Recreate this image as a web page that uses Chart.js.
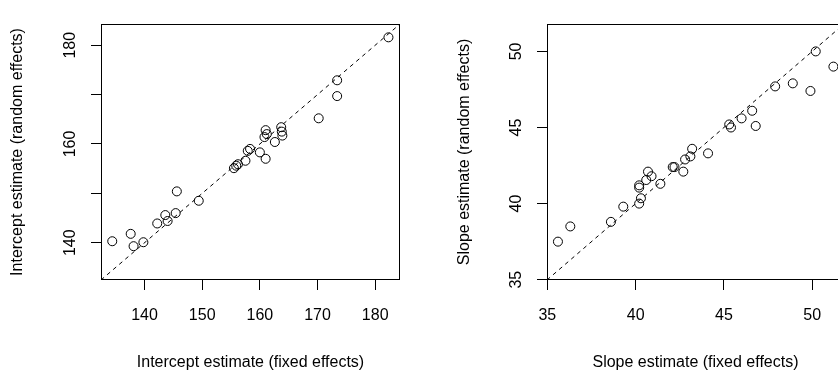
<!DOCTYPE html>
<html><head><meta charset="utf-8">
<script src="https://cdn.jsdelivr.net/npm/chart.js@4/dist/chart.umd.min.js"></script>
<style>
html,body{margin:0;padding:0;background:#fff;overflow:hidden;width:838px;height:380px;}
#c1{position:absolute;left:0;top:0;}
#c2{position:absolute;left:419px;top:0;}
</style></head><body>
<canvas id="c1" width="419" height="380"></canvas>
<canvas id="c2" width="444" height="380"></canvas>
<script>
// ---- data ----
const interceptFixed  = [134.4,137.6,138.1,139.8,142.2,143.6,144.0,145.4,145.6,149.4,155.5,155.9,156.2,157.5,157.9,158.3,160.0,161.0,161.0,161.2,160.8,162.6,163.7,163.8,163.9,170.2,173.4,173.4,182.3];
const interceptRandom = [140.3,141.8,139.3,140.1,143.9,145.6,144.4,146.0,150.4,148.5,155.1,155.6,155.9,156.6,158.6,159.0,158.3,157.0,162.8,162.0,161.4,160.4,163.4,162.5,161.7,165.2,172.9,169.7,181.6];
const slopeFixed  = [35.6,36.3,38.6,39.3,40.2,40.3,40.2,40.2,40.6,40.7,40.9,41.4,42.1,42.2,42.7,42.8,43.1,43.2,44.1,45.3,45.4,46.0,46.6,46.8,47.9,48.9,49.9,50.2,51.2];
const slopeRandom = [37.5,38.5,38.8,39.8,40.0,40.35,41.05,41.2,41.55,42.1,41.8,41.3,42.4,42.4,42.1,42.9,43.1,43.6,43.3,45.2,45.0,45.6,46.1,45.1,47.7,47.9,47.4,50.0,49.0];

const interceptLimits = [132.45, 184.3];
const slopeLimits = [34.98, 51.8];
const interceptTicksX = [140,150,160,170,180];
const interceptTicksY = [140,150,160,170,180];
const interceptLabelsY = ['140','','160','','180'];
const slopeTicksX = [35,40,45,50];
const slopeTicksY = [35,40,45,50];
const slopeLabelsY = ['35','40','45','50'];
const interceptTitleX = 'Intercept estimate (fixed effects)';
const interceptTitleY = 'Intercept estimate (random effects)';
const slopeTitleX = 'Slope estimate (fixed effects)';
const slopeTitleY = 'Slope estimate (random effects)';

const FONT = 'Liberation Sans, Arial, Helvetica, sans-serif';
const FS = 16;

const boxPlugin = {
  id: 'rbox',
  afterDraw(chart, args, opts) {
    const {ctx, chartArea: a} = chart;
    ctx.save();
    ctx.strokeStyle = '#000';
    ctx.lineWidth = 1;
    ctx.strokeRect(Math.round(a.left) + 0.5, Math.round(a.top) + 0.5,
                   Math.round(a.right - a.left) - 1, Math.round(a.bottom - a.top) - 1);
    // rotated y tick labels (R style, parallel to axis)
    const ys = chart.scales.y;
    ctx.fillStyle = '#000';
    ctx.font = FS + 'px ' + FONT;
    ctx.textAlign = 'center';
    ctx.textBaseline = 'alphabetic';
    opts.values.forEach((v, i) => {
      const lab = opts.labels[i];
      if (!lab) return;
      const py = ys.getPixelForValue(v);
      ctx.save();
      ctx.translate(a.left - opts.gap, py);
      ctx.rotate(-Math.PI / 2);
      ctx.fillText(lab, 0, 0);
      ctx.restore();
    });
    ctx.restore();
  }
};

function makeChart(id, xs, ys, lim, ticksX, ticksY, labelsY, titleX, titleY, yAxisW, padRight, yTitlePad) {
  const pts = xs.map((x, i) => ({x: x, y: ys[i]}));
  return new Chart(document.getElementById(id), {
    type: 'scatter',
    data: {
      datasets: [
        {
          type: 'line',
          data: [{x: lim[0], y: lim[0]}, {x: lim[1], y: lim[1]}],
          borderColor: '#000', borderWidth: 1, borderDash: [4, 4],
          pointRadius: 0, fill: false, tension: 0
        },
        {
          data: pts,
          pointRadius: 4.5, pointHoverRadius: 4.5,
          pointBorderWidth: 1, borderColor: '#000', backgroundColor: 'rgba(0,0,0,0)',
          pointBackgroundColor: 'rgba(0,0,0,0)', pointBorderColor: '#000'
        }
      ]
    },
    options: {
      responsive: false, animation: false, devicePixelRatio: 1,
      layout: {padding: {left: 0, top: 24, right: padRight, bottom: 0}},
      plugins: {legend: {display: false}, tooltip: {enabled: false},
                rbox: {values: ticksY, labels: labelsY, gap: 26}},
      scales: {
        x: {
          type: 'linear', min: lim[0], max: lim[1],
          afterBuildTicks: s => { s.ticks = ticksX.map(v => ({value: v})); },
          afterFit: s => { s.height = 100; },
          ticks: {color: '#000', font: {family: FONT, size: FS}, padding: 16,
                  autoSkip: false, maxRotation: 0, minRotation: 0,
                  callback: v => String(v)},
          grid: {display: true, drawOnChartArea: false, drawTicks: true, tickLength: 10,
                 tickColor: '#000', tickWidth: 1},
          border: {display: false},
          title: {display: true, text: titleX, color: '#000',
                  font: {family: FONT, size: FS}, padding: {top: 0, bottom: 8}}
        },
        y: {
          type: 'linear', min: lim[0], max: lim[1],
          afterBuildTicks: s => { s.ticks = ticksY.map(v => ({value: v})); },
          afterFit: s => { s.width = yAxisW; },
          ticks: {display: false},
          grid: {display: true, drawOnChartArea: false, drawTicks: true, tickLength: 10,
                 tickColor: '#000', tickWidth: 1},
          border: {display: false},
          title: {display: true, text: titleY, color: '#000',
                  font: {family: FONT, size: FS}, padding: {top: yTitlePad, bottom: 0}}
        }
      }
    },
    plugins: [boxPlugin]
  });
}

makeChart('c1', interceptFixed, interceptRandom, interceptLimits,
  interceptTicksX, interceptTicksY, interceptLabelsY, interceptTitleX, interceptTitleY, 101, 19, 8);
makeChart('c2', slopeFixed, slopeRandom, slopeLimits,
  slopeTicksX, slopeTicksY, slopeLabelsY, slopeTitleX, slopeTitleY, 128, 19, 36);
</script>
</body></html>
